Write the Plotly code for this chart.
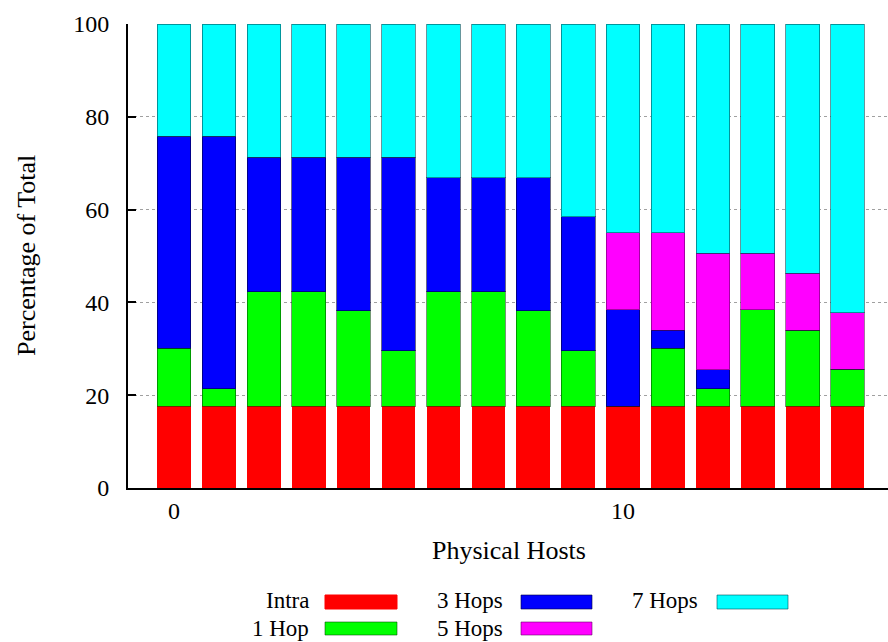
import plotly.graph_objects as go

# Share of traffic per physical host, split by network distance (percent)
hosts = list(range(16))
intra = [17.6, 17.6, 17.6, 17.6, 17.6, 17.6, 17.6, 17.6, 17.6, 17.6, 17.6, 17.6, 17.6, 17.6, 17.6, 17.6]
one_hop = [12.5, 3.8, 24.7, 24.7, 20.6, 12.0, 24.7, 24.7, 20.6, 12.0, 0.0, 12.5, 3.8, 20.8, 16.4, 8.0]
three_hops = [45.7, 54.4, 29.0, 29.0, 33.1, 41.7, 24.6, 24.6, 28.7, 28.9, 20.8, 3.9, 4.1, 0.0, 0.0, 0.0]
five_hops = [0.0, 0.0, 0.0, 0.0, 0.0, 0.0, 0.0, 0.0, 0.0, 0.0, 16.6, 21.0, 25.1, 12.2, 12.3, 12.2]
seven_hops = [24.2, 24.2, 28.7, 28.7, 28.7, 28.7, 33.1, 33.1, 33.1, 41.5, 45.0, 45.0, 49.4, 49.4, 53.7, 62.2]

series_names = ["Intra", "1 Hop", "3 Hops", "5 Hops", "7 Hops"]
series_values = [intra, one_hop, three_hops, five_hops, seven_hops]
series_colors = ["#ff0000", "#00ff00", "#0000ff", "#ff00ff", "#00ffff"]
edge_colors = ["#ff0000", "rgba(0,70,0,0.55)", "rgba(0,0,60,0.6)",
               "rgba(90,0,90,0.55)", "rgba(0,80,90,0.6)"]
edge_widths = [0, 1, 1, 1, 1]

x_ticks = [0, 10]
y_ticks = [0, 20, 40, 60, 80, 100]

FONT = "Liberation Serif"
W, H = 888, 642
L, T, B = 128, 24, 154
PW, PH = W - L, H - T - B

fig = go.Figure()
for name, vals, col, ec, ew in zip(series_names, series_values, series_colors,
                                   edge_colors, edge_widths):
    fig.add_trace(go.Bar(
        x=hosts, y=vals, name=name, width=0.75,
        marker=dict(color=col, line=dict(color=ec, width=ew)),
        showlegend=False,
    ))


def px_x(p):
    return (p - L) / PW


def px_y(p):
    return (H - B - p) / PH


# Legend: right-aligned label followed by a wide colour swatch, column-major
legend_cols = [(311, 325, 397), (505, 521, 592), (700, 717, 788)]
legend_rows = [(595, 609), (622, 635)]
legend_text_y = [600.5, 628]
shapes = []
annotations = []
for i, (name, col, ec) in enumerate(zip(series_names, series_colors, edge_colors)):
    c, r = divmod(i, 2)
    tx, sx0, sx1 = legend_cols[c]
    sy0, sy1 = legend_rows[r]
    shapes.append(dict(
        type="rect", xref="paper", yref="paper",
        x0=px_x(sx0), x1=px_x(sx1), y0=px_y(sy1), y1=px_y(sy0),
        fillcolor=col, line=dict(color=ec if i else col, width=1),
    ))
    annotations.append(dict(
        text=name, xref="paper", yref="paper",
        x=px_x(tx), y=px_y(legend_text_y[r]),
        xanchor="right", yanchor="middle", showarrow=False,
        font=dict(family=FONT, size=23, color="black"),
    ))

annotations.append(dict(
    text="Percentage of Total", xref="paper", yref="paper",
    x=px_x(26), y=px_y(256), textangle=-90,
    xanchor="center", yanchor="middle", showarrow=False,
    font=dict(family=FONT, size=26, color="black"),
))
annotations.append(dict(
    text="Physical Hosts", xref="paper", yref="paper",
    x=px_x(509), y=px_y(550),
    xanchor="center", yanchor="middle", showarrow=False,
    font=dict(family=FONT, size=26, color="black"),
))

fig.update_layout(
    width=W, height=H,
    margin=dict(l=L, r=0, t=T, b=B, pad=0),
    barmode="stack",
    paper_bgcolor="white", plot_bgcolor="white",
    font=dict(family=FONT, size=24, color="black"),
    xaxis=dict(
        range=[-1.025, 15.9], tickvals=x_ticks, ticktext=[str(v) for v in x_ticks],
        ticks="", showgrid=False, zeroline=False,
        showline=True, linecolor="black", linewidth=2,
        tickfont=dict(family=FONT, size=24, color="black"),
    ),
    yaxis=dict(
        range=[0, 100], tickvals=y_ticks, ticktext=[str(v) for v in y_ticks],
        ticks="inside", ticklen=8, tickwidth=1.5, tickcolor="black",
        showline=True, linecolor="black", linewidth=2,
        showgrid=True, gridcolor="#a0a0a0", griddash="dot", gridwidth=1,
        zeroline=False, ticklabelstandoff=12,
        tickfont=dict(family=FONT, size=24, color="black"),
    ),
    yaxis2=dict(
        overlaying="y", side="right", range=[0, 100], tickvals=y_ticks,
        ticks="inside", ticklen=5, tickwidth=1.5, tickcolor="black",
        showticklabels=False, showline=False, showgrid=False, zeroline=False,
    ),
    shapes=shapes,
    annotations=annotations,
)

fig.write_html("out.html")
